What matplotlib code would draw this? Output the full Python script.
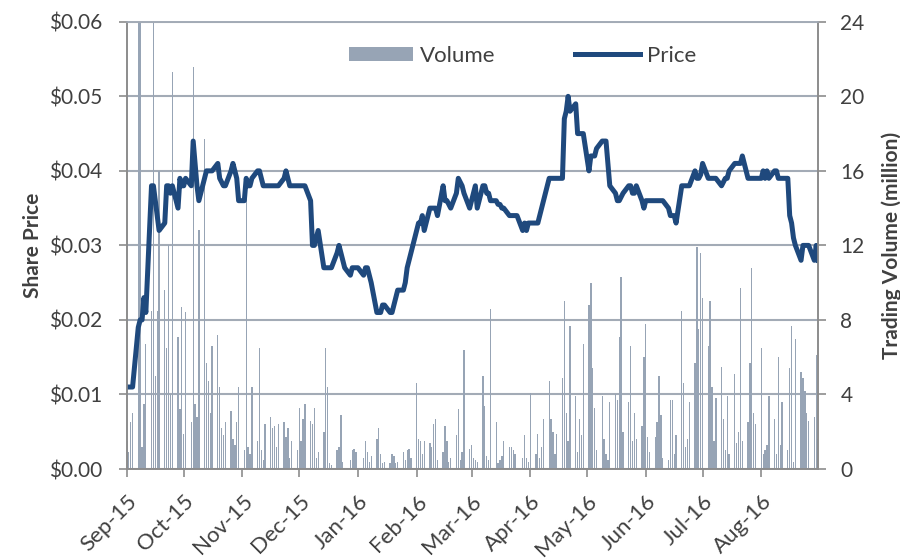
import pandas as pd
import matplotlib
matplotlib.use("Agg")
import matplotlib.pyplot as plt
import matplotlib.dates as mdates
from matplotlib.ticker import FuncFormatter, MultipleLocator

plt.rcParams['font.family'] = ['Lato', 'DejaVu Sans']

# trading days (weekdays) Sep-15 .. Aug-16
dates = pd.bdate_range("2015-09-01", "2016-08-31")

# share price, one value per weekday, month by month
price_sep = [0.011, 0.011, 0.011, 0.011, 0.019, 0.020, 0.020, 0.023, 0.021, 0.038, 0.038,
             0.036, 0.034, 0.032, 0.033, 0.038, 0.038, 0.037, 0.038, 0.035, 0.039, 0.038]
price_oct = [0.038, 0.039, 0.038, 0.044, 0.041, 0.038, 0.036, 0.039, 0.040, 0.040, 0.040,
             0.040, 0.041, 0.039, 0.0385, 0.038, 0.038, 0.040, 0.041, 0.040, 0.039, 0.036]
price_nov = [0.036, 0.039, 0.038, 0.038, 0.039, 0.040, 0.040, 0.039, 0.038, 0.038, 0.038,
             0.038, 0.038, 0.038, 0.038, 0.039, 0.040, 0.039, 0.038, 0.038, 0.038]
price_dec = [0.038, 0.038, 0.038, 0.038, 0.036, 0.030, 0.030, 0.031, 0.032, 0.027, 0.027,
             0.027, 0.027, 0.027, 0.029, 0.030, 0.029, 0.028, 0.027, 0.026, 0.027, 0.027, 0.027]
price_jan = [0.027, 0.026, 0.027, 0.027, 0.026, 0.025, 0.021, 0.021, 0.021, 0.022, 0.022,
             0.021, 0.021, 0.022, 0.023, 0.024, 0.024, 0.025, 0.027, 0.028, 0.029]
price_feb = [0.032, 0.033, 0.033, 0.034, 0.032, 0.035, 0.035, 0.035, 0.035, 0.034, 0.038,
             0.036, 0.036, 0.0355, 0.035, 0.037, 0.039, 0.0385, 0.038, 0.037, 0.035]
price_mar = [0.036, 0.037, 0.038, 0.035, 0.038, 0.038, 0.037, 0.037, 0.036, 0.036, 0.0355,
             0.0355, 0.035, 0.035, 0.034, 0.034, 0.034, 0.034, 0.034, 0.032, 0.033, 0.032, 0.033]
price_apr = [0.033, 0.033, 0.033, 0.034, 0.035, 0.036, 0.039, 0.039, 0.039, 0.039, 0.039,
             0.039, 0.047, 0.048, 0.050, 0.048, 0.049, 0.045, 0.045, 0.045, 0.045]
price_may = [0.040, 0.042, 0.042, 0.042, 0.043, 0.044, 0.044, 0.044, 0.041, 0.038, 0.037,
             0.036, 0.036, 0.0365, 0.037, 0.038, 0.038, 0.037, 0.037, 0.038, 0.036, 0.035]
price_jun = [0.036, 0.036, 0.036, 0.036, 0.036, 0.036, 0.036, 0.036, 0.035, 0.034, 0.034,
             0.034, 0.033, 0.038, 0.038, 0.038, 0.038, 0.038, 0.040, 0.039, 0.039, 0.0395]
price_jul = [0.041, 0.039, 0.039, 0.039, 0.039, 0.039, 0.038, 0.0385, 0.039, 0.039, 0.040,
             0.041, 0.041, 0.041, 0.041, 0.042, 0.039, 0.039, 0.039, 0.039, 0.039]
price_aug = [0.039, 0.040, 0.039, 0.040, 0.039, 0.040, 0.040, 0.039, 0.039, 0.039, 0.039,
             0.034, 0.033, 0.031, 0.030, 0.028, 0.030, 0.030, 0.030, 0.030, 0.028, 0.030, 0.028]

# trading volume (million), one value per weekday
vol_sep = [1.5, 0.9, 2.5, 3.0, 30, 28, 1.2, 3.5, 6.7, 8.5, 30,
           5.0, 8.5, 16.0, 9.6, 6.5, 12.0, 4.0, 21.3, 7.1, 3.2, 8.7]
vol_oct = [1.9, 8.4, 2.5, 21.6, 3.5, 2.8, 12.8, 17.7, 5.7, 4.7, 3.0,
           6.6, 7.2, 4.4, 2.2, 1.8, 2.5, 3.1, 1.6, 1.3, 2.5, 4.4]
vol_nov = [1.0, 14.5, 1.2, 0.8, 4.4, 1.5, 6.5, 1.0, 0.5, 2.4, 2.8,
           2.2, 2.3, 1.2, 2.4, 2.5, 1.7, 2.2, 0.6, 1.5, 1.0]
vol_dec = [3.3, 1.5, 2.7, 3.5, 2.6, 2.4, 3.3, 0.6, 0.9, 2.0, 6.5,
           4.4, 0.3, 0.2, 1.0, 1.2, 2.9, 0.4, 0.0, 0.5, 1.0, 1.1, 0.9]
vol_jan = [0.0, 0.6, 1.5, 0.9, 0.4, 0.7, 1.6, 2.2, 0.8, 0.3, 0.4,
           0.3, 0.8, 0.7, 0.3, 0.4, 0.9, 0.5, 1.0, 1.1, 0.6]
vol_feb = [4.6, 1.6, 1.5, 0.8, 1.5, 1.4, 1.2, 2.4, 2.7, 0.5, 0.9,
           2.3, 1.5, 0.4, 0.6, 1.8, 3.2, 0.5, 0.9, 6.4, 1.1]
vol_mar = [1.3, 0.6, 0.5, 0.4, 5.0, 3.4, 0.7, 0.5, 8.6, 2.5, 0.3,
           0.5, 0.7, 1.5, 1.2, 1.2, 1.0, 0.8, 0.0, 0.6, 1.8, 0.6, 0.4]
vol_apr = [4.1, 0.8, 1.9, 0.6, 1.2, 2.7, 4.7, 2.7, 2.0, 0.8, 1.9,
           4.9, 9.0, 3.0, 1.5, 7.7, 3.9, 0.9, 2.7, 1.8, 6.7]
vol_may = [8.8, 10.0, 5.4, 3.3, 1.0, 3.9, 1.6, 0.8, 0.5, 3.6, 4.0,
           3.7, 7.1, 10.3, 2.0, 3.6, 6.6, 1.5, 3.0, 1.6, 2.3, 6.0]
vol_jun = [7.8, 1.7, 0.9, 1.7, 2.5, 5.0, 2.9, 0.6, 0.5, 3.7, 3.7,
           0.8, 1.8, 8.5, 4.6, 1.2, 1.6, 3.6, 5.7, 11.9, 7.5, 11.6]
vol_jul = [9.2, 6.6, 9.0, 4.4, 1.5, 3.8, 5.5, 2.7, 1.0, 3.9, 0.8,
           5.1, 1.4, 2.0, 9.7, 1.5, 2.5, 5.7, 10.8, 3.0, 2.4]
vol_aug = [6.5, 0.8, 1.0, 1.3, 3.9, 2.7, 0.8, 6.0, 1.3, 3.6, 1.0,
           5.4, 7.7, 0.4, 7.0, 5.2, 4.9, 4.2, 3.0, 2.6, 2.8, 6.1, 1.6]

price = (price_sep + price_oct + price_nov + price_dec + price_jan + price_feb +
         price_mar + price_apr + price_may + price_jun + price_jul + price_aug)
volume = (vol_sep + vol_oct + vol_nov + vol_dec + vol_jan + vol_feb +
          vol_mar + vol_apr + vol_may + vol_jun + vol_jul + vol_aug)

text_col = '#404040'
grid_col = '#a3abb6'
axis_col = '#8c8c8c'
bar_col = '#97a4b5'
line_col = '#1f497d'

fig = plt.figure(figsize=(9, 5.59), dpi=100)
ax = fig.add_axes([0.141, 0.161, 0.768, 0.80])
ax2 = ax.twinx()

ax2.bar(dates, volume, width=0.7, color=bar_col, linewidth=0, label='Volume')
ax.plot(dates, price, color=line_col, linewidth=3.6, solid_joinstyle='round', label='Price')

ax.set_zorder(ax2.get_zorder() + 1)
ax.patch.set_visible(False)

ax.set_xlim(pd.Timestamp("2015-09-01"), pd.Timestamp("2016-08-31"))
ax.set_ylim(0, 0.06)
ax2.set_ylim(0, 24)

ax.yaxis.set_major_locator(MultipleLocator(0.01))
ax.yaxis.set_major_formatter(FuncFormatter(lambda v, p: "${:.2f}".format(v)))
ax2.yaxis.set_major_locator(MultipleLocator(4))

ax2.grid(axis='y', color=grid_col, linewidth=1.5)
ax2.set_axisbelow(True)

ax.xaxis.set_major_locator(mdates.MonthLocator())
ax.xaxis.set_major_formatter(mdates.DateFormatter('%b-%y'))
for lbl in ax.get_xticklabels():
    lbl.set_rotation(45)
    lbl.set_ha('right')
    lbl.set_rotation_mode('anchor')

for a in (ax, ax2):
    for s in a.spines.values():
        s.set_color(axis_col)
        s.set_linewidth(1.2)
    a.tick_params(colors=axis_col, labelcolor=text_col, labelsize=15, length=6, width=1.2)
ax.spines['top'].set_color(grid_col)
ax2.spines['top'].set_color(grid_col)
ax.tick_params(axis='y', pad=12)
ax2.tick_params(axis='y', pad=10)
ax.tick_params(axis='x', pad=10, labelsize=16)

ax.set_ylabel('Share Price', fontsize=15, fontweight='bold', color=text_col, labelpad=4)
ax2.set_ylabel('Trading Volume (million)', fontsize=15, fontweight='bold', color=text_col, labelpad=12)

h1, l1 = ax2.get_legend_handles_labels()
h2, l2 = ax.get_legend_handles_labels()
leg = ax.legend(h1 + h2, l1 + l2, loc='center', bbox_to_anchor=(0.572, 0.924), ncol=2,
                frameon=False, fontsize=16, handlelength=2.9, handleheight=0.6,
                columnspacing=3.6, handletextpad=0.3)
for t in leg.get_texts():
    t.set_color(text_col)

fig.savefig("out.png", dpi=100)
